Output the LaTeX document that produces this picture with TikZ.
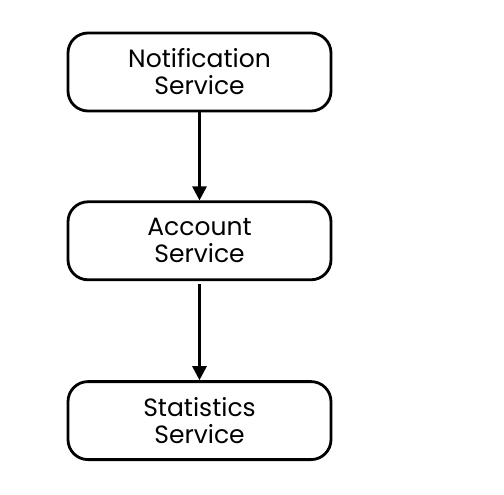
\documentclass[tikz,border=0pt]{standalone}
\usepackage{fontspec}
\setmainfont{Poppins}
\usetikzlibrary{positioning,arrows.meta}
\tikzset{
  service/.style={draw, line width=2.8pt, rounded corners=20pt, minimum width=263pt,
    minimum height=78pt, align=center, font=\fontsize{25}{27}\selectfont, inner sep=0pt},
  flow/.style={line width=2.8pt, -{Triangle[length=14pt,width=14pt]}}
}
\begin{document}
\begin{tikzpicture}[x=1pt, y=-1pt]
    \useasboundingbox (0, 0) rectangle (504, 495);
    \node[service] (notif) at (199.5, 72) {Notification\\Service};
    \node[service, below=88pt of notif] (account) {Account\\Service};
    \node[service, below=99pt of account] (stats) {Statistics\\Service};
    \draw[flow] (notif) -- (account);
    \draw[flow] ([yshift=-3pt]account.south) -- (stats);
\end{tikzpicture}
\end{document}
